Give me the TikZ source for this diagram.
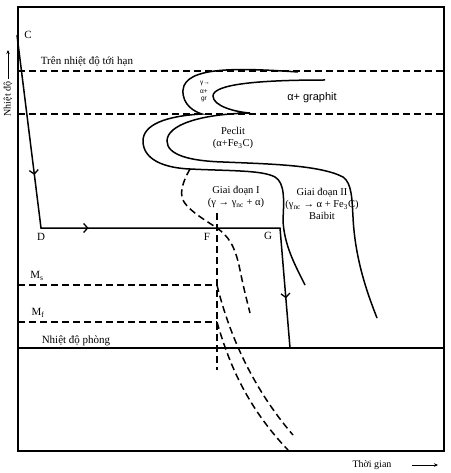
\documentclass[tikz,border=0pt]{standalone}
\usepackage{fontspec}
\setmainfont{Liberation Serif}
\newfontfamily\sansf{Liberation Sans}
\usetikzlibrary{decorations.markings,arrows.meta}
\begin{document}
\begin{tikzpicture}[x=1pt,y=-1pt,
  solidline/.style={line width=1.5pt},
  dashline/.style={line width=1.5pt, dash pattern=on 7pt off 4pt},
  lbl/.style={font=\fontsize{11}{12}\selectfont, inner sep=0pt},
  rlbl/.style={font=\fontsize{10.5}{12}\selectfont, inner sep=0pt, align=center},
  tiny/.style={font=\sansf\fontsize{6.5}{6.5}\selectfont, inner sep=0pt},
  barb/.style={decoration={markings,
      mark=at position 141pt with {\arrow{Straight Barb[length=4pt,width=9pt,line width=1.3pt]}},
      mark=at position 242pt with {\arrow{Straight Barb[length=4pt,width=9pt,line width=1.3pt]}},
      mark=at position 504pt with {\arrow{Straight Barb[length=4pt,width=9pt,line width=1.3pt]}}},
    postaction={decorate}}
]
\useasboundingbox (0,0) rectangle (450,473);

% frame
\draw[line width=1.5pt] (18,7) rectangle (444,451);

% temperature levels
\coordinate (tl1) at (18,71);  \coordinate (tr1) at (444,71);
\coordinate (tl2) at (18,114); \coordinate (tr2) at (444,114);
\coordinate (rl) at (18,348);  \coordinate (rr) at (444,348);
\coordinate (msl) at (18,285); \coordinate (msr) at (217,285);
\coordinate (mfl) at (18,322); \coordinate (mfr) at (217,322);
\coordinate (vt) at (217,213); \coordinate (vb) at (217,370);
\draw[dashline] (tl1) -- (tr1);
\draw[dashline] (tl2) -- (tr2);
\draw[solidline] (rl) -- (rr);
\draw[dashline] (msl) -- (msr);
\draw[dashline] (mfl) -- (mfr);
\draw[dashline] (vt) -- (vb);

% start curve (outer)
\draw[solidline] (298,72) .. controls (240,68) and (185,66) .. (183,90)
  .. controls (182,105) and (195,112) .. (202,114)
  .. controls (165,116) and (143,125) .. (143,141)
  .. controls (143,160) and (165,168) .. (190,169)
  .. controls (230,171) and (262,170) .. (275,177)
  .. controls (285,183) and (284,200) .. (283,220)
  .. controls (284,245) and (295,265) .. (305,285);

% finish curve (inner)
\draw[solidline] (325,80) .. controls (260,80) and (213,84) .. (213,96)
  .. controls (213,106) and (235,112) .. (250,113)
  .. controls (200,114) and (167,125) .. (167,141)
  .. controls (167,155) and (190,161) .. (223,162)
  .. controls (270,164) and (320,165) .. (343,177)
  .. controls (352,183) and (352,200) .. (353,217)
  .. controls (355,260) and (368,295) .. (377,318);

% dashed curve
\draw[dashline] (190,169) .. controls (186,176) and (180,188) .. (182,197)
  .. controls (184,208) and (205,220) .. (217,228)
  .. controls (228,236) and (235,245) .. (240,270)
  .. controls (244,290) and (248,305) .. (250,313);

% martensite curves
\draw[dashline] (msr) .. controls (228,330) and (250,385) .. (293,435);
\draw[dashline] (mfr) .. controls (228,360) and (245,405) .. (288,450);

% cooling path
\coordinate (C) at (17,35);
\coordinate (D) at (41,228);
\coordinate (G) at (280,228);
\coordinate (H) at (290,348);
\draw[solidline, line join=miter, barb] (C) -- (D) -- (G) -- (H);

% labels
\node[lbl] (lC) at (28,35) {C};
\node[lbl] (lD) at (41,237) {D};
\node[lbl] (lF) at (207,237) {F};
\node[lbl] (lG) at (268,236) {G};
\node[lbl] (lMs) at (37,276) {M\textsubscript{s}};
\node[lbl] (lMf) at (38,313) {M\textsubscript{f}};
\node[lbl] (lcrit) at (87,62) {Trên nhiệt độ tới hạn};
\node[lbl] (lroom) at (76,341) {Nhiệt độ phòng};
\node[rlbl] (lpec) at (233,138) {Peclit\\(α+Fe\textsubscript{3}C)};
\node[rlbl] (lg1) at (236,197) {Giai đoạn I\\(γ → γ\textsubscript{nc} + α)};
\node[rlbl] (lg2) at (322,204) {Giai đoạn II\\(γ\textsubscript{nc} → α + Fe\textsubscript{3}C)\\Baibit};
\node[font=\sansf\fontsize{11}{12}\selectfont, inner sep=0pt] (lgr) at (312,98) {α+ graphit};
\node[tiny] (s1) at (205,83) {γ→};
\node[tiny] (s2) at (204,92) {α+};
\node[tiny] (s3) at (204,99.5) {gr};

% axes labels
\node[font=\fontsize{10}{12}\selectfont, inner sep=0pt] (ltime) at (372,465) {Thời gian};
\coordinate (tarr0) at (412,465);
\coordinate (tarr) at (438,465);
\draw[line width=0.7pt, -{Stealth[length=4pt,width=3.5pt]}] (tarr0) -- (tarr);
\node[font=\fontsize{10}{12}\selectfont, inner sep=0pt, rotate=90] (ltemp) at (8,99) {Nhiệt độ};
\coordinate (yarr0) at (8,79);
\coordinate (yarr) at (8,50);
\draw[line width=0.7pt, -{Stealth[length=4pt,width=3.5pt]}] (yarr0) -- (yarr);
\end{tikzpicture}
\end{document}
